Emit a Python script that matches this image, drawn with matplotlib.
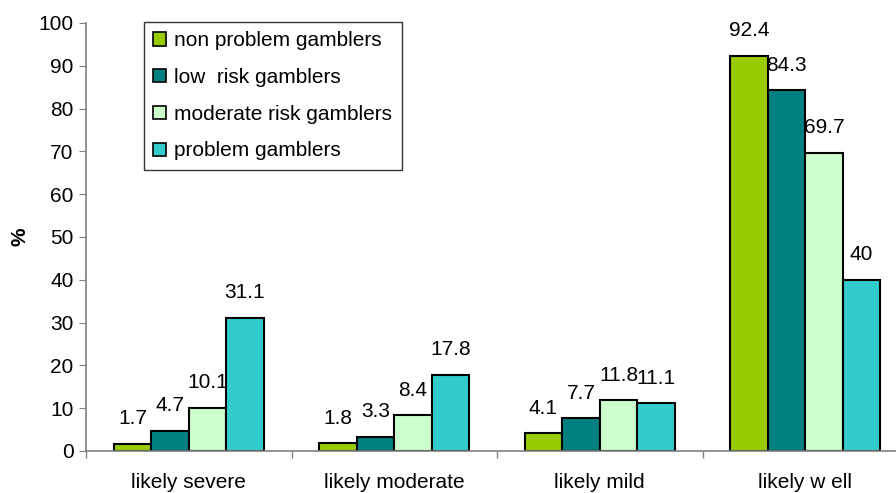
import numpy as np
import matplotlib.pyplot as plt

plt.rcParams['font.family'] = ['Liberation Sans', 'DejaVu Sans']

categories = ['likely severe', 'likely moderate', 'likely mild', 'likely w ell']
series = ['non problem gamblers', 'low  risk gamblers', 'moderate risk gamblers', 'problem gamblers']
non_problem = [1.7, 1.8, 4.1, 92.4]
low_risk = [4.7, 3.3, 7.7, 84.3]
moderate_risk = [10.1, 8.4, 11.8, 69.7]
problem = [31.1, 17.8, 11.1, 40]
colors = ['#99CC00', '#008080', '#CCFFCC', '#33CCCC']

fs = 15
fig = plt.figure(figsize=(8.96, 4.93), dpi=100)
ax = fig.add_axes([86 / 896, 42 / 493, 822 / 896, 428 / 493])

x = np.arange(len(categories))
w = 0.73 / 4
for i, (vals, name) in enumerate(zip([non_problem, low_risk, moderate_risk, problem], series)):
    pos = x + (i - 1.5) * w
    ax.bar(pos, vals, width=w, color=colors[i], edgecolor='black', linewidth=1.5, label=name)
    for px, v in zip(pos, vals):
        ax.annotate(f'{v:g}', (px, v), xytext=(0, 14), textcoords='offset points',
                    ha='center', va='baseline', fontsize=fs)

ax.set_xlim(-0.5, len(categories) - 0.5)
ax.set_ylim(0, 100)
ax.set_yticks(range(0, 101, 10))
ax.set_xticks(x)
ax.set_xticklabels(categories, fontsize=fs)
ax.set_xticks(np.arange(len(categories) + 1) - 0.5, minor=True)
ax.tick_params(axis='x', which='major', length=0, pad=16)
ax.tick_params(axis='x', which='minor', length=5, color='#808080', width=1)
ax.tick_params(axis='y', length=5, color='#808080', labelsize=fs, pad=4)

for s in ['top', 'right']:
    ax.spines[s].set_visible(False)
for s in ['left', 'bottom']:
    ax.spines[s].set_color('#808080')
    ax.spines[s].set_linewidth(1.2)

fig.text(20 / 896, 1 - 237 / 493, '%', rotation=90, fontsize=15, fontweight='bold',
         ha='center', va='center')

leg = ax.legend(loc='upper left', bbox_to_anchor=(144 / 896, 1 - 22 / 493),
                bbox_transform=fig.transFigure, fontsize=fs, frameon=True, fancybox=False,
                edgecolor='black', handlelength=0.6, handleheight=0.6, handletextpad=0.4,
                labelspacing=0.85, borderpad=0.45, borderaxespad=0)
leg.get_frame().set_linewidth(1.0)
for h in leg.legend_handles:
    h.set_linewidth(1.2)

fig.savefig('out.png', dpi=100)
